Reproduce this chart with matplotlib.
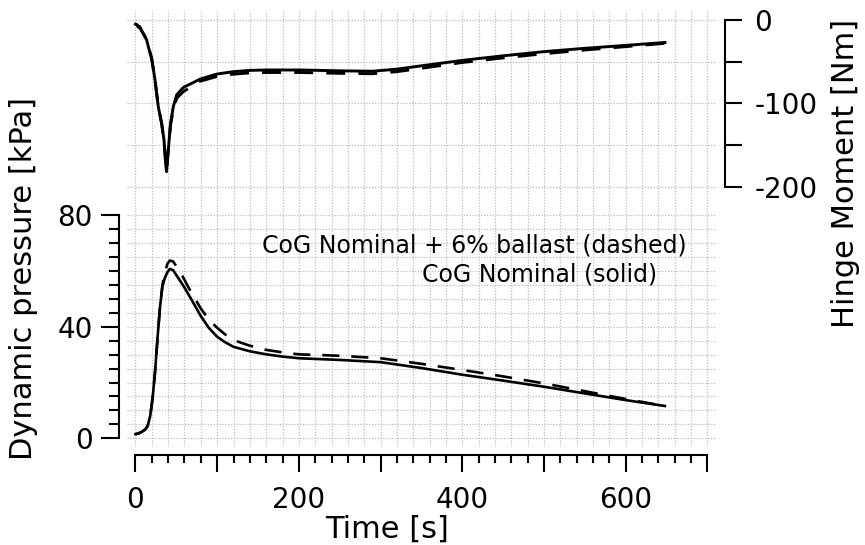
import numpy as np
import matplotlib.pyplot as plt
from matplotlib.ticker import MultipleLocator, FuncFormatter

plt.rcParams['font.family'] = 'DejaVu Sans'
plt.rcParams['axes.unicode_minus'] = False

# Dynamic pressure [kPa] vs time [s]
t_q = [0, 4, 8, 12, 15, 18, 21, 24, 27, 30, 33, 36, 39, 42, 46, 50, 55, 60, 65, 70,
       80, 90, 100, 110, 120, 140, 160, 180, 200, 250, 300, 350, 400, 450, 500, 550, 600, 648]
q_nominal = [1.5, 1.8, 2.4, 3.2, 4.5, 8, 14.5, 24, 36, 47, 54.5, 57.5, 59.5, 60.7, 60.3, 58.5,
             56.3, 54, 51.5, 49, 43.8, 39.5, 36.4, 34.4, 32.8, 31.2, 30.1, 29.3, 28.7, 28.1,
             27.3, 25.2, 22.8, 20.7, 18.5, 16.1, 13.7, 11.6]
q_ballast = [1.5, 1.8, 2.4, 3.2, 4.5, 8, 14.5, 24, 36, 47, 55, 59.5, 62.5, 63.7, 63.4, 61.7,
             59.5, 56.8, 54, 51.5, 46.5, 42.5, 39.6, 37.2, 35.2, 33.2, 31.7, 30.8, 30.1, 29.6,
             28.7, 26.7, 24.5, 22.2, 19.7, 16.9, 14.1, 11.6]

# Hinge moment [Nm] vs time [s]
t_hm = [0, 2, 4, 5, 7, 10, 13.7, 16, 19.8, 23.9, 27.9, 32, 34.9, 37.3, 38, 40.2, 42.9,
        46.3, 50.4, 58.5, 79, 99, 120, 140, 160, 200, 250, 290, 320, 350, 400, 450, 500,
        550, 600, 648]
hm_nominal = [-5, -6, -9, -8, -12, -17, -24, -33, -46, -72, -104, -124, -144, -176, -182,
              -156, -124, -104, -90, -81, -71, -65, -62, -60.5, -60, -60, -61, -61.5, -59,
              -55, -48.5, -43, -38, -34, -30.5, -27]
hm_ballast = [-5, -6, -9, -8, -12, -17, -24, -33, -46, -72, -104, -124, -144, -176, -182,
              -156, -126, -108, -94, -86, -73.5, -68, -65, -63.5, -63, -63, -64, -64.5, -62,
              -58, -51, -45.5, -40.5, -36, -32, -28]

FS = 20
LFS = 22
grid_kw = dict(color='#bcbcbc', linewidth=0.9, linestyle=(0, (1, 1.3)))
dash = (0, (6.5, 4.5))

fig = plt.figure(figsize=(8.65, 5.45), dpi=100)
ax_hm = fig.add_axes([0.1468, 0.6156, 0.6821, 0.3661])
ax_q = fig.add_axes([0.1468, 0.1798, 0.6821, 0.4358])

for ax in (ax_hm, ax_q):
    ax.set_xlim(-10.4, 711.8)
    ax.xaxis.set_major_locator(MultipleLocator(100))
    ax.xaxis.set_minor_locator(MultipleLocator(20))
    ax.grid(True, which='both', axis='both', **grid_kw)
    ax.set_axisbelow(True)
    ax.patch.set_alpha(0)

# top panel: hinge moment
ax_hm.plot(t_hm, hm_nominal, color='black', lw=2.1)
ax_hm.plot(t_hm, hm_ballast, color='black', lw=2.1, ls=dash)
ax_hm.set_ylim(-227.4, 12)
ax_hm.yaxis.set_major_locator(MultipleLocator(50))
ax_hm.yaxis.set_major_formatter(FuncFormatter(lambda v, p: f'{v:.0f}' if v % 100 == 0 else ''))
ax_hm.yaxis.tick_right()
for s in ('left', 'top', 'bottom'):
    ax_hm.spines[s].set_visible(False)
ax_hm.spines['right'].set_position(('outward', 5.8))
ax_hm.spines['right'].set_bounds(-200, 0)
ax_hm.spines['right'].set_linewidth(1.5)
ax_hm.tick_params(axis='x', which='both', bottom=False, labelbottom=False)
ax_hm.tick_params(axis='y', direction='out', length=12, width=1.5, pad=9, labelsize=FS)

# bottom panel: dynamic pressure
ax_q.plot(t_q, q_nominal, color='black', lw=1.9)
ax_q.plot(t_q, q_ballast, color='black', lw=1.9, ls=dash)
ax_q.set_ylim(-3.1, 82)
ax_q.yaxis.set_major_locator(MultipleLocator(40))
ax_q.yaxis.set_minor_locator(MultipleLocator(5))
ax_q.xaxis.set_major_formatter(FuncFormatter(lambda v, p: f'{v:.0f}' if v % 200 == 0 else ''))
for s in ('right', 'top'):
    ax_q.spines[s].set_visible(False)
for s in ('left', 'bottom'):
    ax_q.spines[s].set_position(('outward', 5.8))
    ax_q.spines[s].set_linewidth(1.5)
ax_q.spines['left'].set_bounds(0, 80)
ax_q.spines['bottom'].set_bounds(0, 700)
ax_q.tick_params(axis='y', which='major', direction='out', length=13, width=1.5, pad=6, labelsize=FS)
ax_q.tick_params(axis='y', which='minor', direction='out', length=7, width=1.5)
ax_q.tick_params(axis='x', which='major', direction='out', length=12, width=1.5, pad=10, labelsize=FS)
ax_q.tick_params(axis='x', which='minor', direction='out', length=6, width=1.5)

fig.text(24 / 865, 1 - 278 / 545, 'Dynamic pressure [kPa]', rotation=90,
         ha='center', va='center', fontsize=LFS)
fig.text(845 / 865, 1 - 173 / 545, 'Hinge Moment [Nm]', rotation=90,
         ha='center', va='center', fontsize=LFS)
fig.text(387 / 865, 1 - 538 / 545, 'Time [s]', ha='center', va='baseline', fontsize=LFS)
fig.text(262 / 865, 1 - 253 / 545, 'CoG Nominal + 6% ballast (dashed)',
         ha='left', va='baseline', fontsize=17)
fig.text(422 / 865, 1 - 281.7 / 545, 'CoG Nominal (solid)',
         ha='left', va='baseline', fontsize=17)

fig.savefig('out.png', dpi=100)
